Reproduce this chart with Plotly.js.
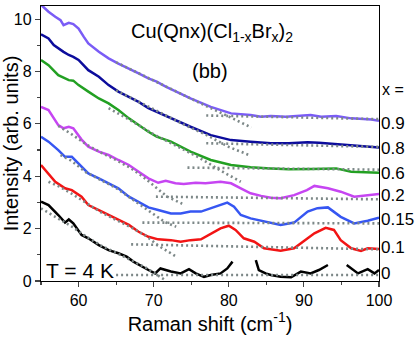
<!DOCTYPE html>
<html>
<head>
<meta charset="utf-8">
<script src="https://cdn.plot.ly/plotly-3.0.1.min.js"></script>
<style>
  html, body { margin:0; padding:0; background:#fff; }
  #chart { width:415px; height:338px; }
</style>
</head>
<body>
<div id="chart"></div>
<script>
// measured spectra, offset per composition x
const x09 = [55,56.0,56.9,57.6,58.0,58.7,59.3,60.0,60.7,61.3,62.7,64.0,65.3,66.7,68.0,69.3,70.4,71.6,72.9,74.9,77.6,80.3,82.9,84.3,85.6,87.6,90.9,92.3,94.3,96.3,99.0,100];
const y09 = [10.55,10.28,10.09,9.96,9.77,9.86,9.81,9.64,9.32,9.07,8.75,8.50,8.30,8.12,7.93,7.74,7.61,7.42,7.23,6.97,6.65,6.40,6.34,6.27,6.30,6.27,6.34,6.27,6.30,6.21,6.17,6.12];

const x08 = [55,56,56.7,57.3,58,58.7,59.3,60,60.7,61.3,62.7,64,65.3,66.7,68,69.3,70.4,72.3,74.9,77.6,80.3,82.9,85.6,88,90.5,92,94,97.6,100];
const y08 = [9.42,9.26,9.01,8.88,8.75,8.63,8.56,8.44,8.24,8.05,7.80,7.48,7.23,7.03,6.84,6.60,6.46,6.21,5.89,5.57,5.38,5.32,5.26,5.26,5.30,5.28,5.24,5.15,5.10];

const x06 = [55,56,57.3,58.7,59.3,60,61.3,62.7,64,65.3,66.7,68,69.3,70.4,72.3,74.9,77.6,80.3,82.9,85.6,88,91,94.3,96.3,100];
const y06 = [8.44,8.24,7.86,7.67,7.65,7.48,7.23,6.97,6.78,6.53,6.21,5.95,5.70,5.51,5.32,4.94,4.62,4.43,4.34,4.30,4.27,4.28,4.30,4.17,4.13];

const x02 = [55,56,57.3,58,58.7,59.3,60.4,61.3,62.7,64,65.3,66.7,68,69.3,70.6,71.6,72.9,74,75.6,76.9,78.9,80.3,81.6,82.9,84.3,85.6,86.9,88.7,90.4,91.4,93.2,94.9,96.7,98.5,100];
const y02 = [6.65,6.53,5.95,5.83,5.89,5.83,5.40,5.13,4.94,4.81,4.62,4.43,4.17,3.92,3.75,3.83,3.73,3.70,3.75,3.73,3.79,3.73,3.54,3.35,3.25,3.18,3.16,3.28,3.47,3.63,3.54,3.41,3.22,3.28,3.32];

const x015 = [55,56,57.3,58.2,59.1,60.4,61.3,62.7,64,65.3,66.7,68,69.3,70.6,72.3,73.6,74.9,76.3,77.6,78.9,79.8,80.7,81.6,82.9,84.3,85.6,86.9,88.7,90.5,91.8,93.2,94.9,96.7,98.5,100];
const y015 = [5.51,5.32,5.00,4.74,4.74,4.36,4.11,3.92,3.73,3.54,3.22,3.03,2.81,2.71,2.58,2.58,2.65,2.65,2.78,2.90,2.99,2.84,2.52,2.39,2.30,2.23,2.14,2.23,2.65,2.78,2.81,2.45,2.20,2.30,2.42];

const x01 = [55,55.8,56.9,58.2,59.1,60.4,61.3,62.7,64,65.3,66.7,68,69.3,70.6,72.3,73.6,74.9,76.3,77.6,78.9,80,80.9,82,83.4,84.7,86.9,88.7,90.1,91.4,92.9,94,94.9,96.3,97.6,98.5,100];
const y01 = [4.43,4.17,3.79,3.54,3.47,3.22,2.90,2.71,2.52,2.33,2.14,1.88,1.69,1.59,1.56,1.50,1.56,1.59,1.79,2.01,2.11,1.95,1.63,1.50,1.25,1.16,1.25,1.56,1.82,2.03,1.95,1.56,1.25,1.15,1.25,1.22];

const x00 = [55,56,57.3,58.2,58.7,59.3,60.4,61.3,62.7,64,65.3,66.4,67.3,68.4,69.3,70.2,70.6,70.9,72.3,73.6,74.7,75.6,76.7,77.6,78.9,79.8,80.5,82,83.6,84.0,84.9,85.6,86.9,88.3,89.6,90.9,92.0,93.2,94.5,95.7,97.2,98.5,99.4,100];
const y00 = [3.03,2.90,2.52,2.23,2.35,2.20,1.76,1.63,1.37,1.18,1.06,0.93,0.74,0.55,0.42,0.29,0.39,0.48,0.36,0.29,0.45,0.29,0.16,0.23,0.29,0.48,0.74,null,0.80,0.42,0.29,0.23,0.16,0.14,0.36,0.29,0.42,0.61,null,0.61,0.29,0.45,0.29,0.42];

// fit components (dotted): decaying part and flat baseline
const fx09 = [65,68,71,74,77,80,83];       const fy09 = [8.35,7.93,7.50,7.08,6.68,6.28,5.86];
const bx09 = [77,100];                       const by09 = [6.32,6.18];
const fx08 = [65,68,71,74,77,80,82.7];     const fy08 = [7.28,6.84,6.40,5.98,5.58,5.12,4.81];
const bx08 = [77,100];                       const by08 = [5.26,5.12];
const fx06 = [64,67,70,73,76,79,81.6];     const fy06 = [6.60,6.12,5.60,5.15,4.72,4.20,3.79];
const bx06 = [74.5,100];                     const by06 = [4.33,4.25];
const fx02 = [57.3,59,61,63,65,67,68.5,70,71.8,73.8]; const fy02 = [5.92,5.62,5.22,4.90,4.62,4.30,4.00,3.65,3.22,2.95];
const bx02 = [70.3,100];                     const by02 = [3.22,3.12];
const fx015 = [57.6,59,61,63,65,67,68.5,70,71.5,73]; const fy015 = [4.81,4.60,4.15,3.85,3.55,3.15,2.85,2.55,2.25,2.07];
const bx015 = [68.5,100];                    const by015 = [2.23,2.20];
const fx01 = [56,57.5,59,61,63,65,67,69,70.5,72.9]; const fy01 = [3.79,3.60,3.35,3.00,2.62,2.33,2.05,1.72,1.37,0.95];
const bx01 = [67,100];                       const by01 = [1.40,1.21];
const fx00 = [55,57,59,61,63,65,67,69,71.4]; const fy00 = [2.77,2.45,2.10,1.70,1.35,1.08,0.80,0.50,0.06];
const bx00 = [65,100];                       const by00 = [0.23,0.23];

const labels = ['0.9','0.8','0.6','0.2','0.15','0.1','0'];
const labelY = [6.02,5.06,4.11,3.28,2.35,1.29,0.29];
const colors = ['#7a5cf6','#0c0c9c','#22a022','#c645f2','#3656f2','#f21414','#000000'];

const spectra = [[x09,y09],[x08,y08],[x06,y06],[x02,y02],[x015,y015],[x01,y01],[x00,y00]];
const fits = [[fx09,fy09],[bx09,by09],[fx08,fy08],[bx08,by08],[fx06,fy06],[bx06,by06],
              [fx02,fy02],[bx02,by02],[fx015,fy015],[bx015,by015],[fx01,fy01],[bx01,by01],
              [fx00,fy00],[bx00,by00]];

const traces = [];
spectra.forEach((s,i)=>{
  traces.push({type:'scatter', mode:'lines', x:s[0], y:s[1], line:{color:colors[i], width:2.5}, connectgaps:false, hoverinfo:'skip'});
});
fits.forEach(f=>{
  traces.push({type:'scatter', mode:'lines', x:f[0], y:f[1], line:{color:'#7d8888', width:2.6, dash:'2px,3px'}, hoverinfo:'skip'});
});

const font = 'Liberation Sans, Arial, sans-serif';
const ann = [
  {xref:'x', yref:'y', x:77.8, y:9.5, text:'Cu(Qnx)(Cl<sub>1-x</sub>Br<sub>x</sub>)<sub>2</sub>', showarrow:false, font:{size:20}},
  {xref:'x', yref:'y', x:77.5, y:8.0, text:'(bb)', showarrow:false, font:{size:20}},
  {xref:'x', yref:'y', x:60.2, y:0.42, text:'T = 4 K', showarrow:false, font:{size:21}},
  {xref:'paper', yref:'y', x:1, xanchor:'left', xshift:1, y:7.32, text:'x =', showarrow:false, font:{size:16}}
];
labels.forEach((t,i)=>{
  ann.push({xref:'paper', yref:'y', x:1, xanchor:'left', xshift:0, y:labelY[i], text:t, showarrow:false, font:{size:17}});
});

Plotly.newPlot('chart', traces, {
  width:415, height:338,
  margin:{l:41, r:36, t:6, b:57},
  paper_bgcolor:'#fff', plot_bgcolor:'#fff',
  showlegend:false,
  font:{family:font, color:'#000', size:16},
  xaxis:{range:[55,100], tickvals:[60,70,80,90,100], ticks:'outside', ticklen:5, tickwidth:1.2,
         minor:{tickvals:[55,65,75,85,95], ticks:'outside', ticklen:3},
         showline:true, linecolor:'#000', linewidth:1.2, mirror:true, showgrid:false, zeroline:false,
         title:{text:'Raman shift (cm<sup>-1</sup>)', font:{size:20}, standoff:5}},
  yaxis:{range:[0,10.5], tickvals:[0,2,4,6,8,10], ticks:'outside', ticklen:5, tickwidth:1.2,
         minor:{tickvals:[1,3,5,7,9], ticks:'outside', ticklen:3},
         showline:true, linecolor:'#000', linewidth:1.2, mirror:true, showgrid:false, zeroline:false,
         title:{text:'Intensity (arb. units)', font:{size:20}, standoff:3}},
  annotations:ann
}, {staticPlot:true, displayModeBar:false});
</script>
</body>
</html>
